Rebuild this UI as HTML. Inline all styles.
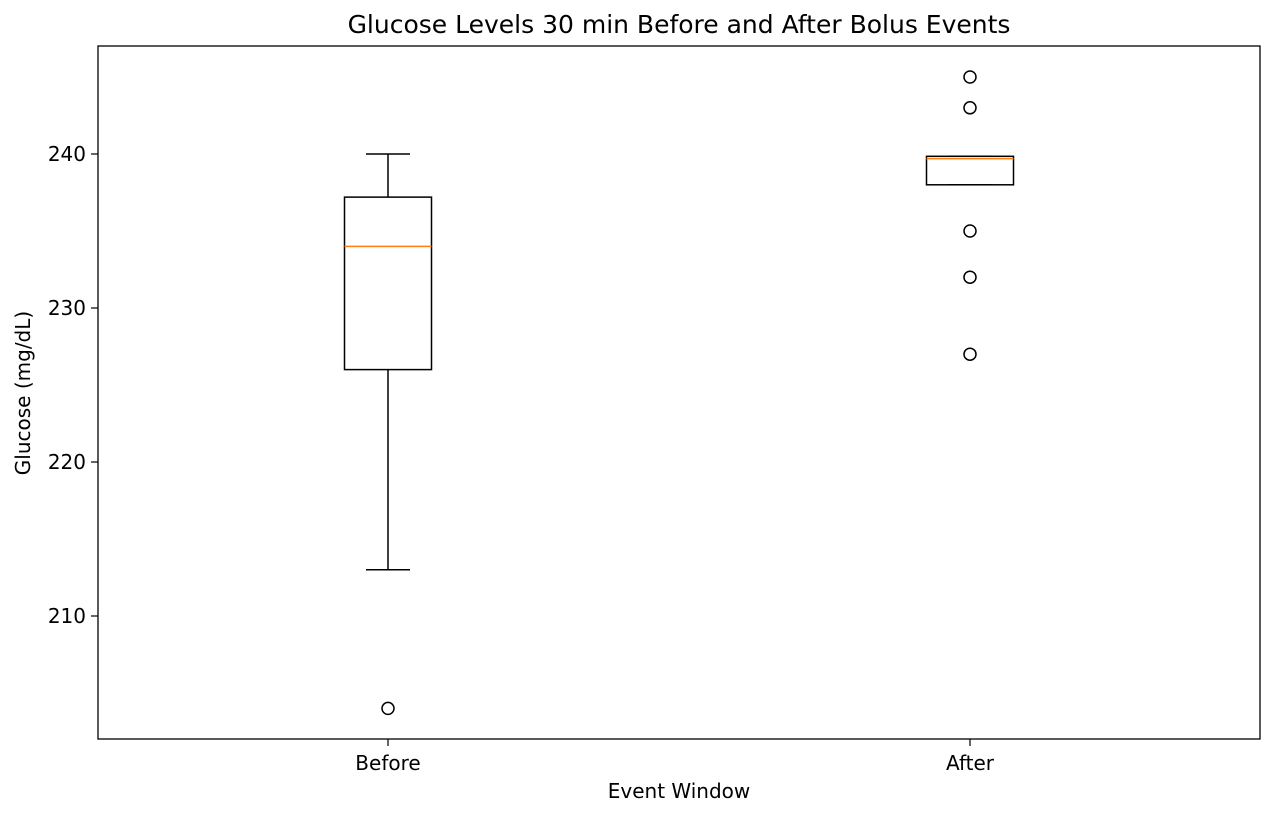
<!DOCTYPE html>
<html><head><meta charset="utf-8"><style>
body{margin:0;background:#fff;}
svg text{font-family:"DejaVu Sans","Liberation Sans",sans-serif;fill:#000;}
</style></head><body>
<svg id="chart" width="1275" height="817" xmlns="http://www.w3.org/2000/svg">
<rect x="0" y="0" width="1275" height="817" fill="#fff"/>
<g id="plot"></g>
<rect x="98" y="46" width="1162" height="693" fill="none" stroke="#000" stroke-width="1.3"/>
<text x="679" y="33" font-size="25" text-anchor="middle">Glucose Levels 30 min Before and After Bolus Events</text>
<text x="679" y="798" font-size="20" text-anchor="middle">Event Window</text>
<text transform="translate(30,393) rotate(-90)" font-size="20" text-anchor="middle">Glucose (mg/dL)</text>
</svg>
<script>
const categories = ["Before", "After"];
const whiskerLow = [213, 238];
const q1 = [226, 238];
const medians = [234, 239.7];
const q3 = [237.2, 239.85];
const whiskerHigh = [240, 239.85];
const outliers = [[204], [245, 243, 235, 232, 227]];
const yTicks = [210, 220, 230, 240];

const NS = "http://www.w3.org/2000/svg";
const g = document.getElementById("plot");
const bot0 = 739;
function y(v){ return 154 + (240 - v) * 15.4; }
function x(i){ return 388 + i * 582; }
function mk(tag, attrs, parent){
  const e = document.createElementNS(NS, tag);
  for (const k in attrs) e.setAttribute(k, attrs[k]);
  (parent || g).appendChild(e);
  return e;
}
yTicks.forEach(t => {
  const l = mk("line", {x1:91, x2:98, y1:y(t), y2:y(t), stroke:"#000", "stroke-width":1.2});
  
  
  const tx = mk("text", {x:86, y:y(t)+7, "font-size":20, "text-anchor":"end"});
  tx.textContent = t;
  
  
});
categories.forEach((c, i) => {
  const cx = x(i), hw = 43.5, cw = 22;
  const l = mk("line", {x1:cx, x2:cx, y1:bot0, y2:bot0+7, stroke:"#000", "stroke-width":1.2});
  
  
  const tx = mk("text", {x:cx, y:770, "font-size":20, "text-anchor":"middle"});
  tx.textContent = c;
  
  
  const grp = mk("g", {});
  
  
  const s = {stroke:"#000", "stroke-width":1.5, fill:"none"};
  mk("line", Object.assign({x1:cx, x2:cx, y1:y(whiskerHigh[i]), y2:y(q3[i])}, s), grp);
  mk("line", Object.assign({x1:cx, x2:cx, y1:y(q1[i]), y2:y(whiskerLow[i])}, s), grp);
  mk("line", Object.assign({x1:cx-cw, x2:cx+cw, y1:y(whiskerHigh[i]), y2:y(whiskerHigh[i])}, s), grp);
  mk("line", Object.assign({x1:cx-cw, x2:cx+cw, y1:y(whiskerLow[i]), y2:y(whiskerLow[i])}, s), grp);
  mk("rect", Object.assign({x:cx-hw, width:2*hw, y:y(q3[i]), height:y(q1[i])-y(q3[i])}, s), grp);
  const m = mk("line", {x1:cx-hw, x2:cx+hw, y1:y(medians[i]), y2:y(medians[i]), stroke:"#ff7f0e", "stroke-width":1.5}, grp);
  
  
  outliers[i].forEach(v => {
    const o = mk("circle", {cx:cx, cy:y(v), r:6, fill:"none", stroke:"#000", "stroke-width":1.5}, grp);
    
    
  });
});
</script>
</body></html>
